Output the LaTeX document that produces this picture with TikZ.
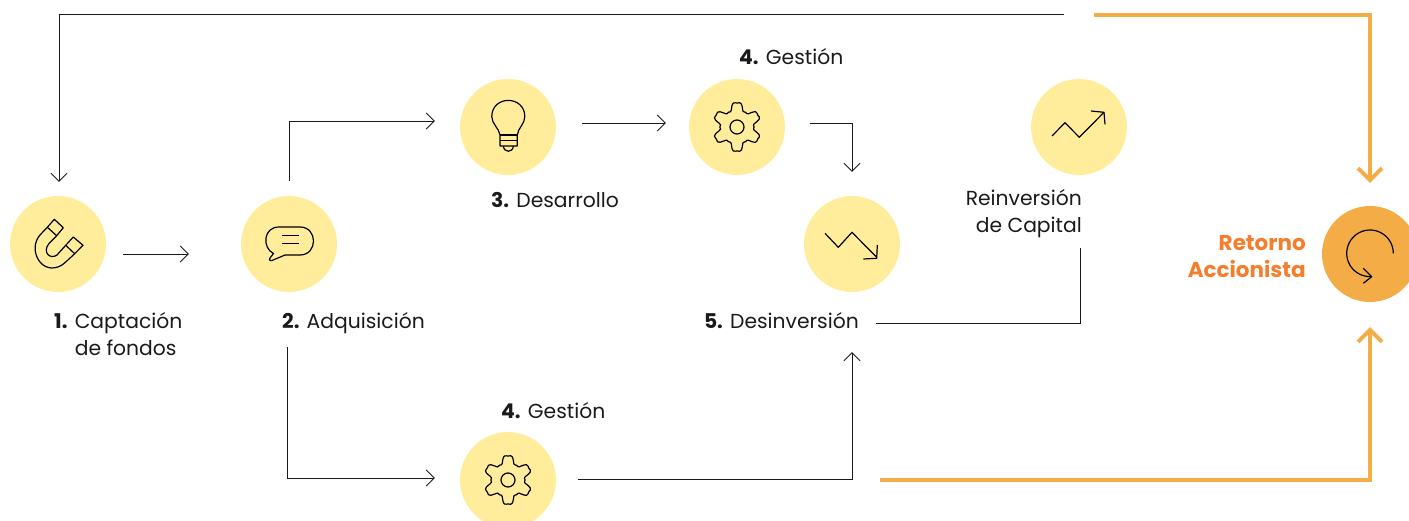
\documentclass[tikz,border=0pt]{standalone}
\usepackage{fontspec}
\setmainfont{Poppins}
\usetikzlibrary{arrows.meta,positioning}
\definecolor{amarillo}{HTML}{FFED9C}
\definecolor{naranja}{HTML}{F4AC47}
\definecolor{textonar}{HTML}{F37E2E}
\definecolor{tinta}{HTML}{1A1A1A}

\tikzset{gearicon/.pic={
	\draw[icon] plot[smooth cycle,samples=73,domain=0:355] ({(20.5-4.5*cos(6*\x)+1.1*cos(18*\x))*cos(\x)},{(20.5-4.5*cos(6*\x)+1.1*cos(18*\x))*sin(\x)});
	\draw[icon] (0,0) circle (7pt);
}}

\begin{document}
\begin{tikzpicture}[x=1pt,y=-1pt]
\tikzstyle{stage}=[circle, fill=amarillo, minimum size=96pt, inner sep=0pt]
\tikzstyle{retorno}=[circle, fill=naranja, minimum size=96pt, inner sep=0pt]
\tikzstyle{icon}=[draw=black, line width=1.2pt, line join=round]
\tikzstyle{lab}=[text=tinta, inner sep=0pt, font=\fontsize{20.3}{27}\selectfont]
\tikzstyle{connect}=[-{Straight Barb[length=8pt,width=16pt]}, draw=tinta, line width=0.8pt]
\tikzstyle{link}=[draw=tinta, line width=0.8pt]
\tikzstyle{connectnar}=[-{Straight Barb[length=12pt,width=24pt]}, draw=naranja, line width=3.8pt]

	\useasboundingbox (0,0) rectangle (1409,521);
	\clip (0,0) rectangle (1409,521);

	\node[stage] (captacion) at (58,244) []{};
	\node[stage] (adquisicion) at (289,244) []{};
	\node[stage] (desarrollo) at (508,127) []{};
	\node[stage] (gestion_a) at (737,127) []{};
	\node[stage] (gestion_b) at (508,480) []{};
	\node[stage] (desinversion) at (852,244) []{};
	\node[stage] (reinversion) at (1079,127) []{};
	\node[retorno] (accionista) at (1370,254) []{};

	\node[lab, anchor=west, align=left] (lab_captacion) at (54,334) {\textbf{1.} Captación\\\phantom{\textbf{1.} }de fondos};
	\node[lab, anchor=west] (lab_adquisicion) at (282,323) {\textbf{2.} Adquisición};
	\node[lab, anchor=west] (lab_desarrollo) at (491,200) {\textbf{3.} Desarrollo};
	\node[lab, anchor=west] (lab_gestion_a) at (739,57) {\textbf{4.} Gestión};
	\node[lab, anchor=west] (lab_gestion_b) at (501,411) {\textbf{4.} Gestión};
	\node[lab, anchor=east] (lab_desinversion) at (859,321) {\textbf{5.} Desinversión};
	\node[lab, anchor=east, align=right] (lab_reinversion) at (1082,214) {Reinversión\\de Capital};
	\node[lab, anchor=east, align=right, text=textonar, font=\fontsize{21.5}{27}\selectfont] (lab_retorno) at (1306,257) {\textbf{Retorno}\\\textbf{Accionista}};

	\coordinate (top_start) at (1064,14.5);
	\coordinate (ret_top) at (1094,15);
	\coordinate (ret_bot) at (880,480);

	% flechas
	\draw[connect, shorten >=14pt] (top_start) -| ([xshift=1pt]captacion.north);
	\draw[connect, shorten <=17pt, shorten >=52pt] ([yshift=-10pt]captacion.east) -- ([yshift=-10pt]adquisicion.west);
	\draw[connect, shorten <=15pt, shorten >=25pt] (adquisicion.north) |- ([yshift=6pt]desarrollo.west);
	\draw[connect, shorten <=55pt, shorten >=25pt] ([xshift=-2pt]adquisicion.south) |- ([yshift=2pt]gestion_b.west);
	\draw[connect, shorten <=26pt, shorten >=23pt] ([yshift=4pt]desarrollo.east) -- ([yshift=4pt]gestion_a.west);
	\draw[connect, shorten <=25pt, shorten >=24pt] ([yshift=4pt]gestion_a.east) -| (desinversion.north);
	\draw[connect, shorten <=22pt, shorten >=60pt] ([yshift=1pt]gestion_b.east) -| (desinversion.south);
	\draw[link, shorten <=17pt, shorten >=10pt] ([yshift=-2pt]lab_desinversion.east) -| ([xshift=-2pt]lab_reinversion.south east);
	\draw[connectnar, shorten >=23pt] (ret_top) -| (accionista.north);
	\draw[connectnar, shorten >=25pt] (ret_bot) -| (accionista.south);

	% iconos
	\draw[icon] (47.3,227.3) -- (54.3,219.3) -- (63.3,227.7) -- (56.7,235.7) -- cycle;
	\draw[icon] (65.7,245.3) -- (73.3,237) -- (83,245.3) -- (74.7,253.7) -- cycle;
	\draw[icon] (47.3,227.3) -- (40,235) .. controls (27,250) and (42,277) .. (62,265) .. controls (66,262) and (70,258) .. (74.7,253.7);
	\draw[icon] (56.7,235.7) -- (49,243.5) .. controls (42,252) and (50,260) .. (57,255) -- (65.7,245.3);

	\draw[icon] (279,227) -- (300,227) .. controls (318,227) and (318,255) .. (300,255) -- (285,255) -- (272,260.5) .. controls (269,261) and (269,259) .. (270,258) -- (273.5,253.5) .. controls (262,248) and (263,227) .. (279,227);
	\draw[icon] (282,235.7) -- (298.7,235.7) (282,243.7) -- (298.7,243.7);

	\draw[icon] (500,135) .. controls (499,128) and (491.8,124) .. (491.8,116.7) .. controls (491.8,95) and (524.8,95) .. (524.8,116.7) .. controls (524.8,124) and (518,128) .. (517.3,135) -- (517.3,146) -- (500,146) -- cycle;
	\draw[icon] (500,135) -- (517.3,135) (500,140.5) -- (517.3,140.5);
	\draw[icon] (503.3,146) .. controls (504,153) and (513,153) .. (513.3,146);

	\pic at (737,127) {gearicon};
	\pic at (508,480) {gearicon};

	\draw[icon] (825,233.3) -- (838.3,247.3) -- (852,232.3) -- (876.7,257.3);
	\draw[icon] (877.3,245) -- (876.7,258.3) -- (863.3,259);

	\draw[icon] (1052,136) -- (1065,122.7) -- (1079.3,137.3) -- (1104,112.3);
	\draw[icon] (1091,111) -- (1104,112.3) -- (1105,124.3);

	\draw[icon] plot[smooth,samples=40,domain=0:272] ({1370+23.3*cos(\x)},{253.3-23.3*sin(\x)});
	\draw[icon] (1363.3,268.3) -- (1371.7,276.7) -- (1363.3,283.3);

\end{tikzpicture}
\end{document}
